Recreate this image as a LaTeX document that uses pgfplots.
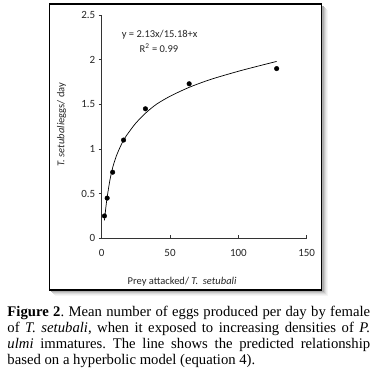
\documentclass[border=0pt]{standalone}
\usepackage{pgfplots}
\pgfplotsset{compat=1.18}
\usepackage{fontspec}
\setmainfont{Liberation Serif}
\newfontfamily\calibri{Carlito}
\frenchspacing
\begin{document}
\begin{tikzpicture}[x=1bp,y=1bp]
\path[use as bounding box,fill=white] (0,0) rectangle (379,379);
% shadow
\foreach \o/\c in {6/black!4,5/black!8,4/black!14,3/black!22,2/black!32}{
  \fill[\c] (49.3+\o,89-\o) rectangle (321.7+\o,375-\o);
}
\fill[white] (49.3,89) rectangle (321.7,375);
\draw[line width=1.1bp] (49.3,89) rectangle (321.7,375);
\begin{axis}[
  at={(101.7bp,140.7bp)}, anchor=south west,
  scale only axis, width=205bp, height=223.3bp,
  xmin=0, xmax=150, ymin=0, ymax=2.5,
  axis lines*=left,
  axis line style={line width=0.6bp, black!80},
  xtick={0,50,100,150}, ytick={0,0.5,1,1.5,2,2.5},
  yticklabels={0,0.5,1,1.5,2,2.5},
  xticklabels={0,50,100,150},
  tick align=inside,
  major tick length=3bp,
  tick style={line width=0.6bp, black!80},
  ytick style={xshift=-3bp},
  tick label style={font=\calibri\fontsize{11bp}{12bp}\selectfont, black!85},
  xticklabel style={yshift=-8bp},
  yticklabel style={xshift=-3bp},
  label style={font=\calibri\fontsize{10.5bp}{12bp}\selectfont, black!85},
  xlabel={Prey attacked/ \textit{T.\ \ setubali}},
  ylabel={\textit{T. setubali}eggs/ day},
  xlabel style={at={(axis description cs:0.392,-0.194)}, anchor=center},
  ylabel style={at={(axis description cs:-0.195,0.51)}, anchor=center, rotate=0},
  clip=false,
]
\addplot[black, line width=0.7bp, smooth, tension=0.5] coordinates {
(2,0.2) (3,0.34) (4,0.46) (6,0.65) (8,0.79) (10,0.89) (12,0.97) (16,1.10)
(20,1.19) (25,1.29) (32,1.40) (40,1.50) (50,1.59) (64,1.69) (80,1.78)
(100,1.87) (115,1.93) (128,1.98)
};
\addplot[only marks, mark=*, mark size=2.3bp, black] coordinates {
(2,0.25) (4,0.45) (8,0.74) (16,1.10) (32,1.45) (64,1.73) (128,1.90)
};
\node[font=\calibri\fontsize{10.5bp}{12bp}\selectfont, black!85] at (axis cs:42.4,2.277) {y = 2.13x/15.18+x};
\node[font=\calibri\fontsize{10.5bp}{12bp}\selectfont, black!85] at (axis cs:41.9,2.128) {R\textsuperscript{2} = 0.99};
\end{axis}
\node[anchor=base west, text width=362.7bp, align=justify, inner sep=0pt,
      font=\fontsize{14.7bp}{16.2bp}\selectfont] at (7.3,63)
{\textbf{Figure 2}. Mean number of eggs produced per day by female\linebreak
of \textit{T. setubali}, when it exposed to increasing densities of \textit{P.}\linebreak
\textit{ulmi} immatures. The line shows the predicted relationship\linebreak
based on a hyperbolic model (equation 4).};
\end{tikzpicture}
\end{document}
